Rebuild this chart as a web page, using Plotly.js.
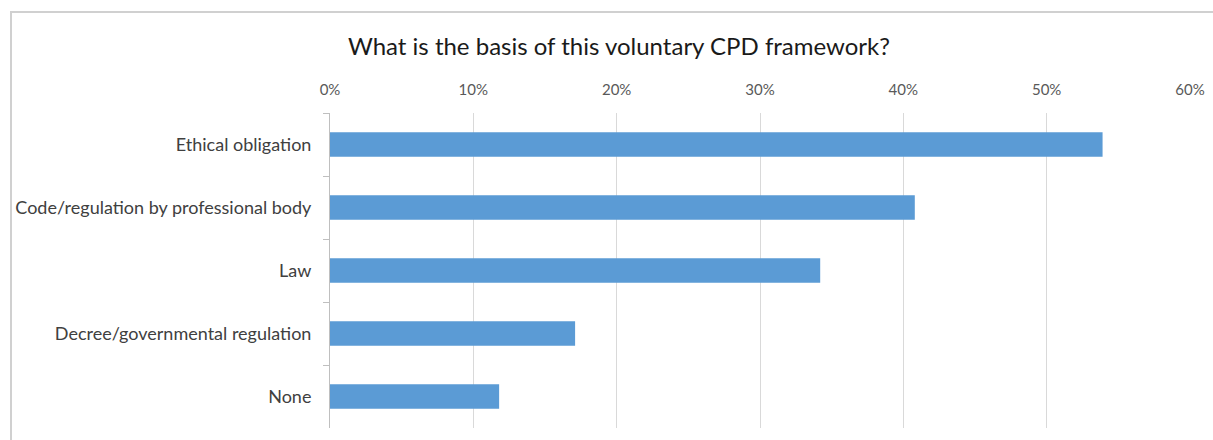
<!DOCTYPE html>
<html>
<head>
<meta charset="utf-8">
<script src="https://cdn.plot.ly/plotly-3.0.1.min.js"></script>
<style>
  html, body { margin: 0; padding: 0; background: #ffffff; }
  #wrap { position: relative; width: 1213px; height: 440px; overflow: hidden; }
  #chart { position: absolute; left: 0; top: 0; width: 1213px; height: 440px; }
  #frame { position: absolute; left: 10px; top: 11px; width: 1300px; height: 500px;
           border-left: 2px solid #d0d0d0; border-top: 2px solid #d0d0d0; pointer-events: none; }
</style>
</head>
<body>
<div id="wrap">
  <div id="chart"></div>
  <div id="frame"></div>
</div>
<script>
const categories = [
  "Ethical obligation",
  "Code/regulation by professional body",
  "Law",
  "Decree/governmental regulation",
  "None"
];
const shares = [53.9, 40.8, 34.2, 17.1, 11.8];
const chartTitle = "What is the basis of this voluntary CPD framework?";

const fontFamily = "Lato, 'Open Sans', 'Liberation Sans', sans-serif";

const trace = {
  type: "bar",
  orientation: "h",
  x: shares,
  y: categories,
  marker: { color: "#5b9bd5" },
  hoverinfo: "x+y"
};

const layout = {
  width: 1213,
  height: 440,
  margin: { l: 330, r: 23, t: 113, b: 12, pad: 0 },
  paper_bgcolor: "rgba(0,0,0,0)",
  plot_bgcolor: "rgba(0,0,0,0)",
  showlegend: false,
  bargap: 0.61,
  title: {
    text: chartTitle,
    font: { family: fontFamily, size: 24, color: "#1a1a1a" },
    xref: "container", x: 0.5103, xanchor: "center",
    yref: "container", y: 0.893, yanchor: "middle"
  },
  xaxis: {
    side: "top",
    range: [0, 60],
    dtick: 10,
    tick0: 0,
    ticksuffix: "%",
    showgrid: true,
    gridcolor: "#d9d9d9",
    gridwidth: 1,
    zeroline: false,
    showline: false,
    ticks: "",
    ticklabelstandoff: 14,
    tickfont: { family: fontFamily, size: 15, color: "#595959" },
    fixedrange: true
  },
  yaxis: {
    type: "category",
    autorange: "reversed",
    showgrid: false,
    zeroline: false,
    showline: true,
    linecolor: "#bfbfbf",
    linewidth: 1,
    ticks: "outside",
    tickson: "boundaries",
    ticklen: 6,
    tickcolor: "#bfbfbf",
    ticklabelstandoff: 14,
    tickfont: { family: fontFamily, size: 18, color: "#404040" },
    fixedrange: true
  }
};

Plotly.newPlot("chart", [trace], layout, { displayModeBar: false, staticPlot: true });
</script>
</body>
</html>
